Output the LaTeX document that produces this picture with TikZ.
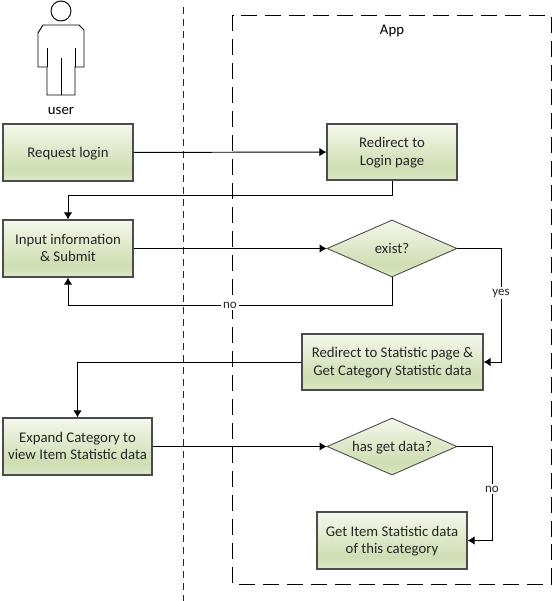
\documentclass[tikz,border=0pt]{standalone}
\usepackage{fontspec}
\setmainfont{Carlito}
\usetikzlibrary{shapes.geometric}
\usetikzlibrary{arrows.meta}
\pgfdeclareverticalshading{boxgrad}{100bp}{rgb(0bp)=(0.86,0.91,0.78); rgb(25bp)=(0.86,0.91,0.78); rgb(36bp)=(0.81,0.87,0.70); rgb(75bp)=(0.96,0.97,0.92); rgb(100bp)=(0.96,0.97,0.92)}
\begin{document}
\begin{tikzpicture}
[font=\fontsize{8.4}{9.8}\selectfont,
oneline/.style={text height=7.1pt,text depth=1.9pt},
twolines/.style={text height=16.9pt,text depth=1.9pt},
box/.style={rectangle,draw=black!70,line width=0.7pt,shading=boxgrad,align=center,text=black!85,inner sep=0pt,minimum width=2.6cm,minimum height=1.14cm},
decide/.style={diamond,draw=black!70,line width=0.5pt,shading=boxgrad,shape aspect=2.28,text=black!85,inner sep=0pt,minimum width=2.6cm,minimum height=1.14cm,oneline},
flow/.style={black,line width=0.55pt,-{Latex[length=1.4mm,width=1.7mm]}},
lane/.style={black!85,line width=0.55pt,dash pattern=on 4pt off 2.83pt},
appbox/.style={black,line width=0.55pt,dash pattern=on 9.1pt off 4.55pt},
man/.style={black,line width=0.55pt},
tag/.style={fill=white,inner sep=1pt,text=black!85,font=\fontsize{7.4}{8}\selectfont}]
\useasboundingbox (0,0) rectangle (11.06,12.02);

\draw [lane] (3.66,11.88) -- (3.66,0);
\draw [appbox] (4.65,11.72) rectangle (11.03,0.34);
\node (app) at (7.84,11.40) {App};

\draw [man] (1.22,11.8) circle (0.2);
\draw [man] (0.76,11.36) -- (0.76,10.68) -- (0.94,10.68) -- (0.94,10.12) -- (1.5,10.12) -- (1.5,10.68) -- (1.68,10.68) -- (1.68,11.42) -- (1.58,11.52) -- (0.86,11.52) -- cycle;
\draw [man] (0.94,10.68) -- (0.94,11.06);
\draw [man] (1.5,10.68) -- (1.5,11.06);
\draw [man] (1.22,10.12) -- (1.22,10.86);
\node (user) at (1.22,9.80) {user};

\node[box,oneline] (request) at (1.36,8.97) {Request login};
\node[box,twolines,minimum height=1.12cm] (redirect) at (7.84,8.98) {Redirect to\\Login page};
\node[box,twolines] (input) at (1.36,7.05) {Input information\\\& Submit};
\node[decide] (exist) at (7.84,7.05) {exist?};
\node[box,twolines,minimum width=3.62cm,minimum height=1.12cm] (statistic) at (7.85,4.78) {Redirect to Statistic page \&\\Get Category Statistic data};
\node[box,twolines,minimum width=2.98cm] (expand) at (1.55,3.09) {Expand Category to\\view Item Statistic data};
\node[decide] (hasdata) at (7.84,3.09) {has get data?};
\node[box,twolines,minimum width=3cm] (getitem) at (7.84,1.21) {Get Item Statistic data\\of this category};

\coordinate (turn1) at (7.84,8.12);
\coordinate (turn2) at (7.84,5.92);
\coordinate (yesmid) at (10.02,6.16);
\coordinate (nomid) at (9.84,2.24);

\draw [flow] (request) -- (redirect);
\draw [flow] (redirect.south) -- (turn1) -| (input.north);
\draw [flow] (input) -- (exist);
\draw [flow] (exist.south) -- (turn2) -| node[tag,pos=0.25] (no1) {no} (input.south);
\draw [flow] (exist.east) -| (yesmid) node[tag] (yes) {yes} |- (statistic.east);
\draw [flow] (statistic.west) -| (expand.north);
\draw [flow] (expand) -- (hasdata);
\draw [flow] (hasdata.east) -| (nomid) node[tag] (no2) {no} |- (getitem.east);
\end{tikzpicture}
\end{document}
